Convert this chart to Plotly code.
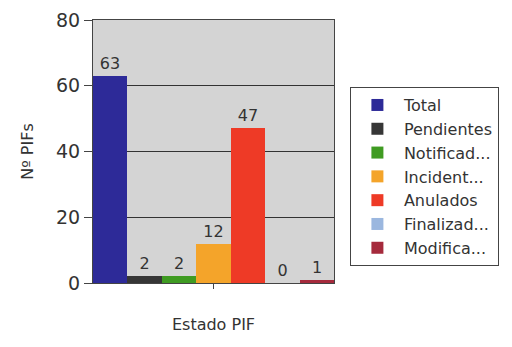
import plotly.graph_objects as go

categories = [""]
series_names = ["Total", "Pendientes", "Notificad...", "Incident...", "Anulados", "Finalizad...", "Modifica..."]
series_values = [63, 2, 2, 12, 47, 0, 1]
series_colors = ["#2d2a98", "#363636", "#3f9b22", "#f4a42a", "#ee3a26", "#9bb7df", "#a52a3c"]
y_ticks = [0, 20, 40, 60, 80]

fig = go.Figure()
for name, val, col in zip(series_names, series_values, series_colors):
    fig.add_trace(go.Bar(
        x=categories, y=[val], name=name, marker=dict(color=col, line=dict(width=0)),
        text=[str(val)], textposition="outside", cliponaxis=False,
        textfont=dict(size=16, color="#333333", family="DejaVu Sans"),
    ))

fig.update_layout(
    width=512, height=347,
    margin=dict(l=93, r=178, t=20, b=64, autoexpand=False),
    barmode="group", bargap=0, bargroupgap=0,
    paper_bgcolor="white", plot_bgcolor="#d4d4d4",
    font=dict(family="DejaVu Sans", color="#333333"),
    showlegend=True,
    legend=dict(
        x=1.066, y=0.745, xanchor="left", yanchor="top",
        bordercolor="#444444", borderwidth=1, bgcolor="white",
        font=dict(size=16, color="#333333"), itemwidth=43,
        entrywidth=115, entrywidthmode="pixels",
        tracegroupgap=0,
    ),
    xaxis=dict(
        showticklabels=False, ticks="outside", ticklen=5, tickcolor="#444444",
        showline=True, linecolor="#444444", linewidth=1, mirror=True,
        title=dict(text="Estado PIF", font=dict(size=16, color="#333333"), standoff=30),
    ),
    yaxis=dict(
        range=[0, 80], tickvals=y_ticks, ticks="outside", ticklen=8, tickcolor="#444444",
        tickfont=dict(size=19, color="#333333"),
        showgrid=True, gridcolor="#333333", gridwidth=1, zeroline=False,
        showline=True, linecolor="#444444", linewidth=1, mirror=True,
        title=dict(text="Nº PIFs", font=dict(size=16, color="#333333"), standoff=18),
    ),
)

fig.write_html("out.html", post_script="document.body.style.margin='0';",
               config={"displayModeBar": False})
